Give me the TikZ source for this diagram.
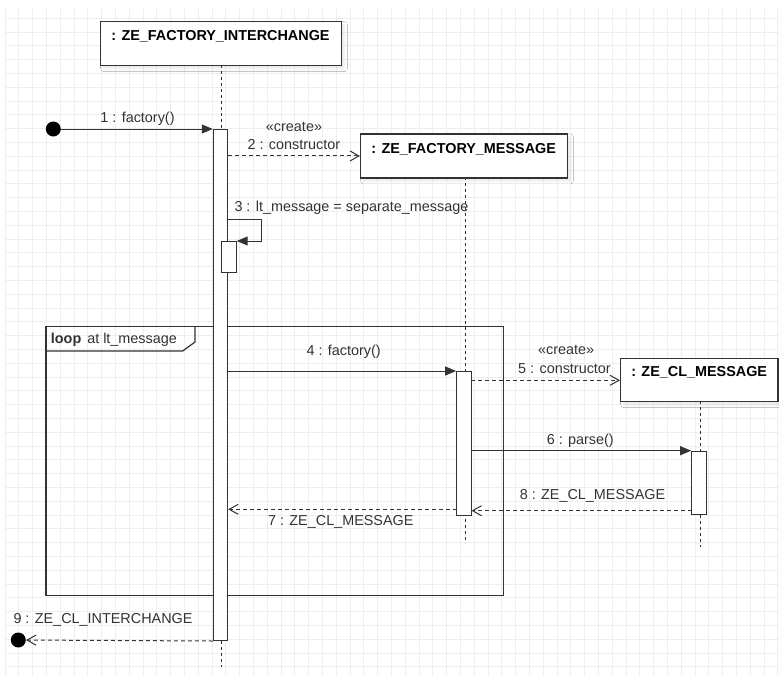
\documentclass[tikz,border=0pt]{standalone}
\usepackage{fontspec}
\setmainfont{Liberation Sans}
\usetikzlibrary{arrows.meta,shadows.blur}
\definecolor{ink}{HTML}{333333}
\definecolor{gridc}{HTML}{EEEEEE}
\begin{document}
\begin{tikzpicture}[x=1pt,y=-1pt,
  every node/.style={font=\fontsize{14.4}{16}\selectfont, text=ink},
  lifebox/.style={draw=ink, line width=1.3pt, fill=white, inner sep=0pt,
    minimum height=44pt, anchor=north west,
    blur shadow={shadow xshift=3pt, shadow yshift=-3pt, shadow opacity=9, shadow blur radius=3pt}},
  title/.style={anchor=base, text=black, font=\fontsize{14.4}{16}\selectfont\bfseries},
  act/.style={draw=ink, line width=1pt, fill=white, inner sep=0pt, minimum width=14.4pt},
  life/.style={draw=ink, line width=1pt, dash pattern=on 3pt off 3pt},
  call/.style={draw=ink, line width=1pt, -{Triangle[length=11pt,width=9pt]}},
  create/.style={draw=ink, line width=1pt, dash pattern=on 4pt off 3pt, -{Straight Barb[length=9pt,width=10pt]}},
  reply/.style={draw=ink, line width=1pt, dash pattern=on 4pt off 3pt, -{Straight Barb[length=9pt,width=10pt]}},
  endpt/.style={circle, fill=black, inner sep=0pt, minimum size=15pt},
  msglabel/.style={anchor=base, inner sep=0pt},
]
% page and background grid
\useasboundingbox (0,0) rectangle (779,675);
\fill[white] (0,0) rectangle (779,675);
\begin{scope}[gridc, line width=1pt]
  \foreach \i in {0,...,56} \draw ({5+13.8*\i},6.7) -- ({5+13.8*\i},675);
  \foreach \j in {0,...,47} \draw (5,{18.3+13.8*\j}) -- (779,{18.3+13.8*\j});
\end{scope}

% combined fragment
\draw[ink, line width=1.2pt] (46,326.7) rectangle (503.3,595.3);
\draw[ink, line width=1.2pt] (46,351) -- (182.7,351) -- (195,342) -- (195,326.7);
\node[anchor=base west, inner sep=0pt] (loopTag) at (50.7,343.3) {\textbf{loop}\hspace{6pt}at lt\_message};

% lifeline heads
\node[lifebox, minimum width=240.7pt] (fi) at (100,21) {};
\node[lifebox, minimum width=206.7pt] (fm) at (360,133.3) {};
\node[lifebox, minimum width=157.3pt, minimum height=43.3pt] (cm) at (620,357.7) {};
\node[title] (fiT) at (220.5,40.7) {: ZE\_FACTORY\_INTERCHANGE};
\node[title] (fmT) at (463.7,153.3) {: ZE\_FACTORY\_MESSAGE};
\node[title] (cmT) at (699.2,376.7) {: ZE\_CL\_MESSAGE};

% lifelines
\coordinate (fiEnd) at (221,666.7);
\coordinate (fiTop) at (221,65);
\coordinate (fmEnd) at (465,543.3);
\coordinate (fmTop) at (465,177.3);
\coordinate (cmEnd) at (700,546.7);
\coordinate (cmTop) at (700,401);
\draw[life] (fiTop) -- (fiEnd);
\draw[life] (fmTop) -- (fmEnd);
\draw[life] (cmTop) -- (cmEnd);

% activation bars
\node[act, minimum height=511pt, anchor=north] (a1) at (220.5,129) {};
\node[act, minimum width=14.7pt, minimum height=31.3pt, anchor=north west] (a1b) at (221,241) {};
\node[act, minimum height=144pt, anchor=north] (a2) at (463.85,371) {};
\node[act, minimum width=15pt, minimum height=63.6pt, anchor=north] (a3) at (699.2,450.7) {};

% 1 : factory()
\node[endpt] (start) at (53.3,129) {};
\draw[call] (start) -- (a1.north west);
\node[msglabel] (l1) at (137.5,122.7) {1 : factory()};

% 2 : constructor
\draw[create] (a1.east |- fm.west) -- (fm.west);
\node[msglabel] (l2a) at (294,131.7) {«create»};
\node[msglabel] (l2b) at (293.8,149) {2 : constructor};

% 3 : self call
\coordinate (s3) at (227.7,219);
\draw[call] (s3) -- (261.7,219) |- (a1b.north east);
\node[anchor=base west, inner sep=0pt] (l3) at (234.3,211.7) {3 : lt\_message = separate\_message};

% 4 : factory()
\draw[call] (a1.east |- a2.north west) -- (a2.north west);
\node[msglabel] (l4) at (343.7,355) {4 : factory()};

% 5 : constructor
\coordinate (s5) at (471,380.3);
\coordinate (e5) at (620,380.3);
\draw[create] (s5) -- (e5);
\node[msglabel] (l5a) at (566.2,354) {«create»};
\node[msglabel] (l5b) at (564.5,373.3) {5 : constructor};

% 6 : parse()
\draw[call] (a2.east |- a3.north west) -- (a3.north west);
\node[msglabel] (l6) at (580.3,444) {6 : parse()};

% 8 : return from parse
\coordinate (r8) at (691.7,510.7);
\draw[reply] (r8) -- (a2.east |- r8);
\node[msglabel] (l8) at (592.5,499) {8 : ZE\_CL\_MESSAGE};

% 7 : return from factory
\coordinate (r7) at (456.7,509.3);
\draw[reply] (r7) -- (a1.east |- r7);
\node[msglabel] (l7) at (340.8,525) {7 : ZE\_CL\_MESSAGE};

% 9 : final return
\node[endpt] (stop) at (18.3,640) {};
\draw[reply] (a1.south west) -- (stop);
\node[anchor=base west, inner sep=0pt] (l9) at (13.3,623.3) {9 : ZE\_CL\_INTERCHANGE};
\end{tikzpicture}
\end{document}
